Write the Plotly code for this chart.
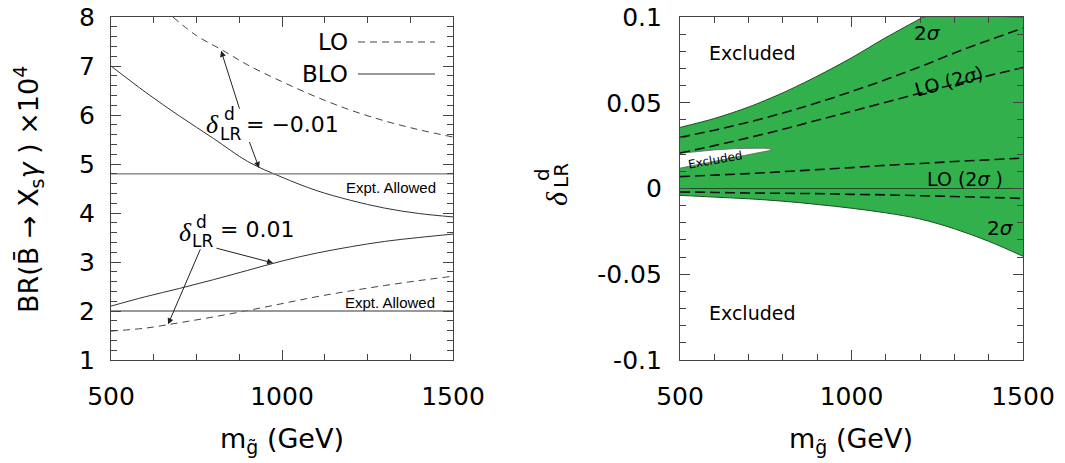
import plotly.graph_objects as go

# ---------------- data (left panel) ----------------
m_grid = [500, 600, 700, 800, 900, 1000, 1100, 1200, 1300, 1400, 1500]
m_lo_up = [681, 750, 824, 900, 1000, 1100, 1200, 1300, 1400, 1500]
br_lo_up = [8.0, 7.62, 7.33, 7.02, 6.68, 6.37, 6.10, 5.88, 5.70, 5.55]
br_blo_up = [7.00, 6.47, 5.98, 5.52, 5.05, 4.73, 4.46, 4.26, 4.10, 3.99, 3.92]
br_blo_dn = [2.10, 2.29, 2.46, 2.64, 2.83, 3.02, 3.18, 3.31, 3.42, 3.50, 3.57]
br_lo_dn = [1.59, 1.65, 1.76, 1.88, 2.01, 2.15, 2.29, 2.41, 2.52, 2.62, 2.71]
expt_x = [500, 1500]
expt_upper = [4.8, 4.8]
expt_lower = [2.0, 2.0]

# ---------------- data (right panel) ----------------
m_up = [500, 600, 700, 800, 900, 1000, 1100, 1200, 1209, 1500]
d_up = [0.0356, 0.0408, 0.0475, 0.0558, 0.0655, 0.0762, 0.0880, 0.0990, 0.1, 0.1]
d_dn = [-0.0040, -0.0050, -0.0060, -0.0074, -0.0093, -0.0115, -0.0142, -0.0178, -0.0235, -0.0308, -0.0395]
lo1 = [0.0298, 0.0340, 0.0387, 0.0440, 0.0500, 0.0565, 0.0635, 0.0710, 0.0790, 0.0865, 0.0935]
lo2 = [0.0207, 0.0250, 0.0296, 0.0345, 0.0398, 0.0450, 0.0503, 0.0556, 0.0608, 0.0658, 0.0705]
lo3 = [0.0069, 0.0078, 0.0087, 0.0098, 0.0110, 0.0122, 0.0135, 0.0146, 0.0157, 0.0167, 0.0177]
lo4 = [-0.0020, -0.0023, -0.0026, -0.0028, -0.0030, -0.0034, -0.0037, -0.0042, -0.0047, -0.0052, -0.0058]
zero_line = [0.0] * len(m_grid)
m_hole_top = [500, 550, 600, 665, 720, 745, 760, 768]
hole_top = [0.0205, 0.0216, 0.0225, 0.0233, 0.0236, 0.0235, 0.0232, 0.0227]
m_hole_bot = [500, 568, 665, 720, 745, 760]
hole_bot = [0.0119, 0.0143, 0.0182, 0.0205, 0.0215, 0.0221]

x_ticks = [500, 1000, 1500]
y2_ticks = [-0.1, -0.05, 0, 0.05, 0.1]
y2_text = ["-0.1", "-0.05", "0", "0.05", "0.1"]

W, H = 1065, 463
GREEN = "#31b04b"
FRAME = "#444444"
FONT = "DejaVu Sans"

fig = go.Figure()

# left panel curves
fig.add_trace(go.Scatter(x=m_lo_up, y=br_lo_up, mode="lines",
                         line=dict(color="#444", width=1, dash="7px,5px", shape="spline"), xaxis="x", yaxis="y"))
fig.add_trace(go.Scatter(x=m_grid, y=br_blo_up, mode="lines",
                         line=dict(color="#333", width=1, shape="spline"), xaxis="x", yaxis="y"))
fig.add_trace(go.Scatter(x=m_grid, y=br_blo_dn, mode="lines",
                         line=dict(color="#333", width=1, shape="spline"), xaxis="x", yaxis="y"))
fig.add_trace(go.Scatter(x=m_grid, y=br_lo_dn, mode="lines",
                         line=dict(color="#444", width=1, dash="7px,5px", shape="spline"), xaxis="x", yaxis="y"))
fig.add_trace(go.Scatter(x=expt_x, y=expt_upper, mode="lines",
                         line=dict(color="#777", width=1.3), xaxis="x", yaxis="y"))
fig.add_trace(go.Scatter(x=expt_x, y=expt_lower, mode="lines",
                         line=dict(color="#777", width=1.3), xaxis="x", yaxis="y"))

# right panel band
fig.add_trace(go.Scatter(x=m_grid, y=d_dn, mode="lines",
                         line=dict(color="#1e4d22", width=1, shape="spline"), xaxis="x2", yaxis="y2"))
fig.add_trace(go.Scatter(x=m_up, y=d_up, mode="lines", fill="tonexty", fillcolor=GREEN,
                         line=dict(color="#1e4d22", width=1, shape="spline", smoothing=0.8),
                         xaxis="x2", yaxis="y2"))
hx = m_hole_top + m_hole_bot[::-1]
hy = hole_top + hole_bot[::-1]
fig.add_trace(go.Scatter(x=hx, y=hy, mode="lines", fill="toself", fillcolor="white",
                         line=dict(color="#666", width=0.8), xaxis="x2", yaxis="y2"))
for arr in (lo1, lo2, lo3, lo4):
    fig.add_trace(go.Scatter(x=m_grid, y=arr, mode="lines",
                             line=dict(color="#111", width=1.6, dash="10px,5px", shape="spline"),
                             xaxis="x2", yaxis="y2"))
fig.add_trace(go.Scatter(x=m_grid, y=zero_line, mode="lines",
                         line=dict(color="#1e4d22", width=1.2), xaxis="x2", yaxis="y2"))

dom_y = [1 - 360 / H, 1 - 17 / H]
tickfont = dict(family=FONT, size=25, color="black")
common = dict(showline=True, linecolor=FRAME, linewidth=1.2, mirror="ticks",
              ticks="inside", tickcolor=FRAME, ticklen=10, tickwidth=1,
              showgrid=False, zeroline=False, tickfont=tickfont, automargin=False)

fig.update_layout(
    width=W, height=H, margin=dict(l=0, r=0, t=0, b=0, autoexpand=False),
    paper_bgcolor="white", plot_bgcolor="white", showlegend=False,
    xaxis=dict(domain=[111 / W, 453 / W], range=[500, 1500], tickvals=x_ticks,
               minor=dict(dtick=125, tick0=500, ticks="inside", ticklen=6, tickcolor=FRAME),
               ticklabelstandoff=14, anchor="y", **common),
    yaxis=dict(domain=dom_y, range=[1, 8], dtick=1,
               minor=dict(dtick=0.2, tick0=1, ticks="inside", ticklen=6, tickcolor=FRAME),
               ticklabelstandoff=10, anchor="x", **common),
    xaxis2=dict(domain=[680 / W, 1023 / W], range=[500, 1500], tickvals=x_ticks,
                minor=dict(dtick=100, tick0=500, ticks="inside", ticklen=6, tickcolor=FRAME),
                ticklabelstandoff=14, anchor="y2", **common),
    yaxis2=dict(domain=dom_y, range=[-0.1, 0.1], tickvals=y2_ticks, ticktext=y2_text,
                minor=dict(dtick=0.01, tick0=-0.1, ticks="inside", ticklen=6, tickcolor=FRAME),
                ticklabelstandoff=12, anchor="x2", **common),
)

def pa(text, px, py, size, angle=0, xanchor="center", family=FONT, color="black"):
    fig.add_annotation(text=text, x=px / W, y=1 - py / H, xref="paper", yref="paper",
                       showarrow=False, textangle=angle, xanchor=xanchor, yanchor="middle",
                       font=dict(family=family, size=size, color=color))

# axis titles
pa("m<sub>g\u0303</sub> (GeV)", 282, 440, 27)
pa("m<sub>g\u0303</sub> (GeV)", 851, 440, 27)
pa("BR(B\u0304 \u2192 X<sub>s</sub><i>\u03b3</i> ) \u00d710<sup>4</sup>", 28, 190, 27, angle=-90)
pa("<i>\u03b4</i>", 556, 199, 30, angle=-90, family="Liberation Serif")
pa("d", 542, 175, 20, angle=-90)
pa("LR", 561, 176, 20, angle=-90)

# legend
pa("LO", 350, 42, 23, xanchor="right")
pa("BLO", 350, 74, 23, xanchor="right")
fig.add_shape(type="line", xref="paper", yref="paper", x0=358 / W, x1=435 / W,
              y0=1 - 42 / H, y1=1 - 42 / H, line=dict(color="#444", width=1, dash="7px,5px"))
fig.add_shape(type="line", xref="paper", yref="paper", x0=358 / W, x1=435 / W,
              y0=1 - 74 / H, y1=1 - 74 / H, line=dict(color="#333", width=1))

# expt allowed labels
pa("Expt. Allowed", 438, 188, 15, xanchor="right", family="Liberation Sans")
pa("Expt. Allowed", 437, 302, 15, xanchor="right", family="Liberation Sans")

# delta labels (left)
pa("<i>\u03b4</i>", 212, 125, 26, family="Liberation Serif")
pa("d", 229, 114, 17)
pa("LR", 230, 134, 17)
pa("= \u22120.01", 244, 124, 22, xanchor="left")
pa("<i>\u03b4</i>", 185, 233, 26, family="Liberation Serif")
pa("d", 201, 222, 17)
pa("LR", 202, 241, 17)
pa("= 0.01", 218, 229, 22, xanchor="left")

# arrows (data coords, left panel)
arrows = [((877, 6.10), (822, 7.31)), ((903, 5.48), (933, 4.92)),
          ((804, 3.29), (974, 2.98)), ((763, 3.29), (667, 1.73))]
for (tx, ty), (hx_, hy_) in arrows:
    fig.add_annotation(x=hx_, y=hy_, ax=tx, ay=ty, xref="x", yref="y", axref="x", ayref="y",
                       text="", showarrow=True, arrowhead=2, arrowsize=1.2, arrowwidth=1,
                       arrowcolor="#222")

# right panel labels
pa("Excluded", 752, 53, 19)
pa("Excluded", 753, 313, 19)
pa("Excluded", 715, 160, 12, angle=-10)
pa("2<i>\u03c3</i>", 927, 33, 20)
pa("LO (2<i>\u03c3</i>)", 949, 81, 19, angle=-15)
pa("LO (2<i>\u03c3</i> )", 965, 179, 19)
pa("2<i>\u03c3</i>", 1000, 228, 20)

fig.write_html("out.html", config={"displayModeBar": False},
               post_script="document.body.style.margin='0';document.body.style.padding='0';"
                           "document.body.style.overflow='hidden';")
